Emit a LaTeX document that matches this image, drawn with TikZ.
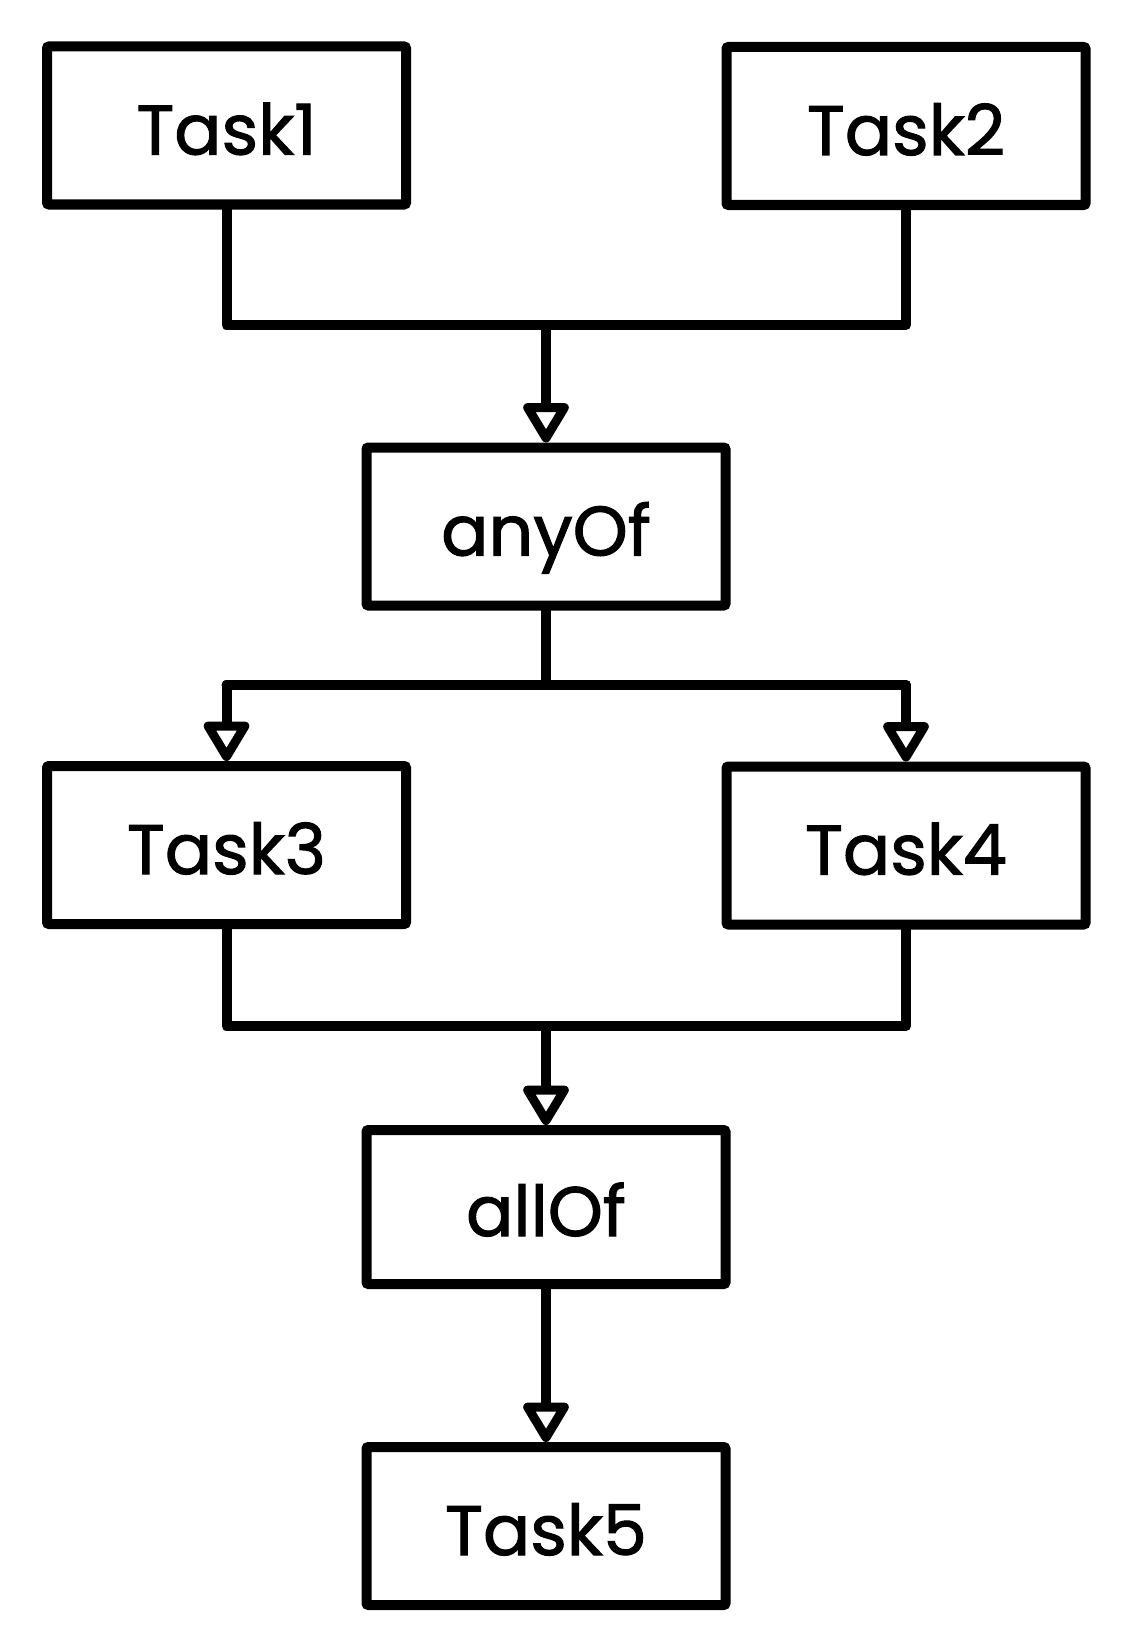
\documentclass[tikz,border=0pt]{standalone}
\usepackage{fontspec}
\setmainfont{Poppins}
\newfontfamily\labelfont{Poppins}[FakeBold=1.5]
\usetikzlibrary{arrows.meta}
\tikzset{
  taskbox/.style={draw=black, line width=10pt, rounded corners=2pt, minimum width=359pt,
    minimum height=158pt, inner sep=0pt, text height=58pt, text depth=0pt,
    font=\labelfont\fontsize{70}{84}\selectfont},
  conn/.style={line width=10pt, line join=round, line cap=round},
  arr/.style={conn, -{Triangle[open, length=44pt, width=50pt, line width=9pt, round]}}
}
\begin{document}
\begin{tikzpicture}[x=1pt, y=-1pt]
  \path[fill=white] (0,0) rectangle (1128,1648);
  \useasboundingbox (0,0) rectangle (1128,1648);
  \node[taskbox] (t1) at (226.5,125.5) {Task1};
  \node[taskbox] (t2) at (906,126) {Task2};
  \node[taskbox] (any) at (546,526.5) {anyOf};
  \node[taskbox] (t3) at (226.5,845) {Task3};
  \node[taskbox] (t4) at (906,845.5) {Task4};
  \node[taskbox, minimum height=154pt] (all) at (546,1207) {allOf};
  \node[taskbox] (t5) at (546,1526) {Task5};
  \coordinate (j1) at (546,325);
  \coordinate (j2) at (546,685);
  \coordinate (j3) at (546,1026);
  \draw[conn] (t1.south) -- (t1.south |- j1) -- (t2.south |- j1) -- (t2.south);
  \draw[arr] (j1) -- (any.north);
  \draw[conn] (any.south) -- (j2);
  \draw[conn] (t3.north |- j2) -- (t4.north |- j2);
  \draw[arr] (t3.north |- j2) -- (t3.north);
  \draw[arr] (t4.north |- j2) -- (t4.north);
  \draw[conn] (t3.south) -- (t3.south |- j3) -- (t4.south |- j3) -- (t4.south);
  \draw[arr] (j3) -- (all.north);
  \draw[arr] (all.south) -- (t5.north);
\end{tikzpicture}
\end{document}
